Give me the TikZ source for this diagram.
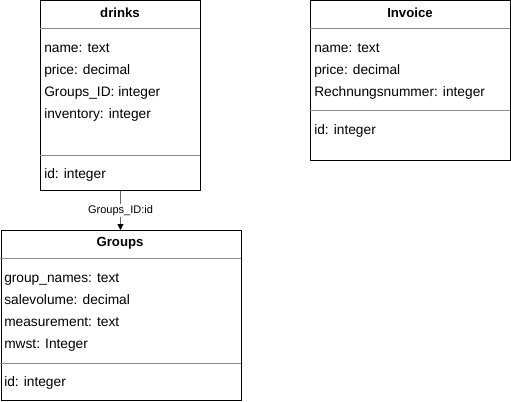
\documentclass[tikz,border=0pt]{standalone}
\usepackage{fontspec}
\setmainfont{Liberation Sans}
\usetikzlibrary{arrows.meta}
\begin{document}
\begin{tikzpicture}[x=0.75pt,y=-0.75pt,
  entity/.style={draw=black,line width=0.75pt,rectangle,inner sep=0pt,anchor=north west},
  divider/.style={draw=black!45,line width=0.75pt},
  title/.style={font=\bfseries\fontsize{9.9}{11}\selectfont,inner sep=0pt,anchor=base},
  field/.style={font=\fontsize{10.3}{11}\selectfont,inner sep=0pt,anchor=base west},
  conn/.style={draw=black!60,line width=0.75pt,-{Triangle[width=4.5pt,length=4.5pt,black]}},
  connlabel/.style={font=\fontsize{8.25}{9}\selectfont,fill=white,inner sep=1pt}]
\useasboundingbox (0,0) rectangle (511,401);
% drinks
\node[entity,minimum width=120pt,minimum height=142.5pt] (drinks) at (40,0) {};
\draw[divider] (40,28) -- (200,28);
\draw[divider] (40,155) -- (200,155);
\node[title] (drinksT) at (120,17.5) {drinks};
\node[field] (d1) at (44,52) {name: text};
\node[field] (d2) at (44,74) {price: decimal};
\node[field] (d3) at (44,96) {Groups\_ID: integer};
\node[field] (d4) at (44,118) {inventory: integer};
\node[field] (d5) at (44,178) {id: integer};
% Invoice
\node[entity,minimum width=150pt,minimum height=120pt] (invoice) at (310,0) {};
\draw[divider] (310,28) -- (510,28);
\draw[divider] (310,110) -- (510,110);
\node[title] (invoiceT) at (410,17.5) {Invoice};
\node[field] (i1) at (314,52) {name: text};
\node[field] (i2) at (314,74) {price: decimal};
\node[field] (i3) at (314,96) {Rechnungsnummer: integer};
\node[field] (i4) at (314,134) {id: integer};
% Groups
\node[entity,minimum width=180pt,minimum height=127.5pt] (groups) at (0.5,230) {};
\draw[divider] (0.5,258) -- (240.5,258);
\draw[divider] (0.5,363) -- (240.5,363);
\node[title] (groupsT) at (120,246.5) {Groups};
\node[field] (g1) at (4,282) {group\_names: text};
\node[field] (g2) at (4,304) {salevolume: decimal};
\node[field] (g3) at (4,326) {measurement: text};
\node[field] (g4) at (4,348) {mwst: Integer};
\node[field] (g5) at (4,386) {id: integer};
% connector
\draw[conn] (drinks.south) -- (drinks.south |- groups.north)
  node[connlabel,pos=0.5] (lab) {Groups\_ID:id};
\end{tikzpicture}
\end{document}
